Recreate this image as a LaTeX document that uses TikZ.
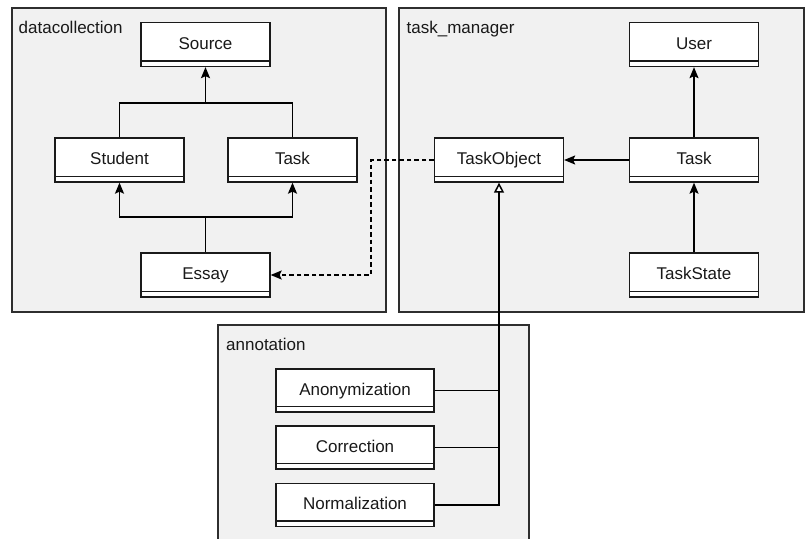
\documentclass[tikz,border=0pt]{standalone}
\usepackage{fontspec}
\setmainfont{Liberation Sans}
\usetikzlibrary{arrows.meta}
\definecolor{pkgfill}{HTML}{F1F1F1}
\definecolor{pkgline}{HTML}{2E2E2E}
\definecolor{boxline}{HTML}{1A1A1A}
\tikzset{
  pkg/.style={draw=pkgline, fill=pkgfill, line width=1.5pt},
  pkglabel/.style={anchor=base west, inner sep=0pt, font=\fontsize{17}{20}\selectfont, text=black!90},
  cls/.style={draw=boxline, fill=white, line width=1.3pt, minimum width=129pt, minimum height=44pt,
    inner sep=0pt, text height=14pt, text depth=5pt, font=\fontsize{17}{20}\selectfont, text=black!90,
    path picture={\draw[boxline, line width=1.3pt] ([yshift=5.5pt]path picture bounding box.south west) -- ([yshift=5.5pt]path picture bounding box.south east);}},
  wcls/.style={cls, minimum width=158pt, minimum height=43pt},
  conn/.style={draw=black, line width=1.5pt},
  arr/.style={conn, -{Stealth[length=11pt,width=9pt,inset=2pt]}},
  gen/.style={conn, -{Triangle[open,length=10pt,width=10pt,fill=white]}},
  dep/.style={arr, dash pattern=on 4.5pt off 3pt},
}
\begin{document}
\begin{tikzpicture}[x=1pt,y=-1pt]
\useasboundingbox (0,0) rectangle (805,538);
\clip (0,0) rectangle (805,538);

% packages
\path[pkg] (12,8) rectangle (386,312);
\path[pkg] (399,8) rectangle (804,312);
\path[pkg] (218,325) rectangle (529,548);
\node[pkglabel] (lbldc) at (18.5,33.3) {datacollection};
\node[pkglabel] (lbltm) at (406.5,33.3) {task\_manager};
\node[pkglabel] (lblan) at (226,350) {annotation};

% datacollection
\node[cls] (src) at (205.5,44.5) {Source};
\node[cls] (stu) at (119.5,160) {Student};
\node[cls] (tsk) at (292.5,160) {Task};
\node[cls] (ess) at (205.5,275) {Essay};

% task_manager
\node[cls] (user) at (694,44.5) {User};
\node[cls] (tobj) at (499,160) {TaskObject};
\node[cls] (tmtask) at (694,160) {Task};
\node[cls] (tstate) at (694,275) {TaskState};

% annotation
\node[wcls] (anon) at (355,390.5) {Anonymization};
\node[wcls] (corr) at (355,447.5) {Correction};
\node[wcls] (norm) at (355,505) {Normalization};

% connectors datacollection
\coordinate (j1) at (205.5,103);
\coordinate (j2) at (205.5,217);
\draw[conn] (stu.north) |- (j1) -| (tsk.north);
\draw[arr] (j1) -- (src.south);
\draw[conn] (ess.north) -- (j2);
\draw[arr] (j2) -| (stu.south);
\draw[arr] (j2) -| (tsk.south);

% dependency
\coordinate (j3) at (371,275);
\draw[dep] (tobj.west) -| (j3) -- (ess.east);

% task_manager
\draw[arr] (tmtask.west) -- (tobj.east);
\draw[arr] (tmtask.north) -- (user.south);
\draw[arr] (tstate.north) -- (tmtask.south);

% generalization
\draw[conn] (anon.east) -- (anon.east -| tobj.south);
\draw[conn] (corr.east) -- (corr.east -| tobj.south);
\draw[gen] (norm.east) -| (tobj.south);
\end{tikzpicture}
\end{document}
